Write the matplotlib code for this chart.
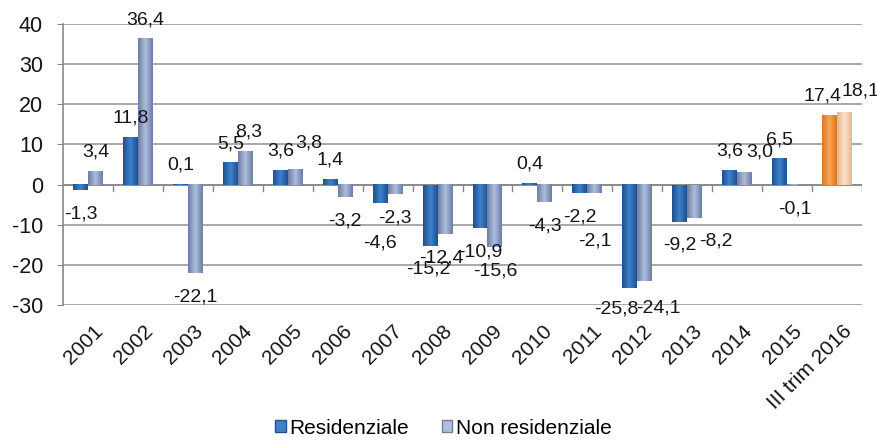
import numpy as np
import matplotlib
matplotlib.use("Agg")
import matplotlib.pyplot as plt
import matplotlib.transforms as mtransforms
from matplotlib.colors import LinearSegmentedColormap
from matplotlib.patches import Patch

plt.rcParams['font.family'] = ['Liberation Sans', 'DejaVu Sans']
plt.rcParams['axes.unicode_minus'] = False

# Data
years = ["2001", "2002", "2003", "2004", "2005", "2006", "2007", "2008",
         "2009", "2010", "2011", "2012", "2013", "2014", "2015", "III trim 2016"]
residenziale = [-1.3, 11.8, 0.1, 5.5, 3.6, 1.4, -4.6, -15.2,
                -10.9, 0.4, -2.2, -25.8, -9.2, 3.6, 6.5, 17.4]
non_residenziale = [3.4, 36.4, -22.1, 8.3, 3.8, -3.2, -2.3, -12.4,
                    -15.6, -4.3, -2.1, -24.1, -8.2, 3.0, -0.1, 18.1]

# label nudges (pixels, dx right / dy up) where labels were moved apart
nudge_res = {6: (0, -16), 7: (-2, 0), 11: (-14, 3), 15: (-7, 0)}
nudge_non = {3: (3, 0), 4: (13, 7), 7: (-4, 0), 10: (0, -24), 11: (14, -3),
             12: (21, 0), 13: (15, 2), 15: (16, 2)}

# gradient colours (edge, centre, edge)
blue = ["#1E4F8F", "#3F82CC", "#1E4F8F"]
grey = ["#6B7DA5", "#AEBEDD", "#6B7DA5"]
orange = ["#D9792A", "#F8A552", "#D9792A"]
peach = ["#E6B58A", "#FDE3CA", "#E6B58A"]

fig = plt.figure(figsize=(8.78, 4.41), dpi=100)
ax = fig.add_axes([0.0718, 0.3084, 0.91, 0.637])

x = np.arange(len(years))
w = 0.3

b1 = ax.bar(x - w / 2, residenziale, w, color="none", zorder=3)
b2 = ax.bar(x + w / 2, non_residenziale, w, color="none", zorder=3)


def fill_gradient(bars, cols, last_cols):
    n = len(bars)
    for i, p in enumerate(bars):
        c = last_cols if i == n - 1 else cols
        cmap = LinearSegmentedColormap.from_list("g", c)
        x0, y0 = p.get_x(), p.get_y()
        x1, y1 = x0 + p.get_width(), y0 + p.get_height()
        grad = np.linspace(0, 1, 50).reshape(1, -1)
        ax.imshow(grad, cmap=cmap, extent=[x0, x1, min(y0, y1), max(y0, y1)],
                  aspect="auto", zorder=3, interpolation="bicubic")


fill_gradient(b1, blue, orange)
fill_gradient(b2, grey, peach)


def fmt(v):
    return f"{v:.1f}".replace(".", ",")


px = 72 / 100  # pixels -> points
for bars, vals, nudge in ((b1, residenziale, nudge_res), (b2, non_residenziale, nudge_non)):
    for i, (p, v) in enumerate(zip(bars, vals)):
        cx = p.get_x() + p.get_width() / 2
        dx, dy = nudge.get(i, (0, 0))
        if v >= 0:
            ax.annotate(fmt(v), (cx, v), xytext=(dx * px, 7.5 + dy * px),
                        textcoords="offset points", ha="center", va="bottom",
                        fontsize=14, color="#151515", zorder=5)
        else:
            ax.annotate(fmt(v), (cx, v), xytext=(dx * px, -11 + dy * px),
                        textcoords="offset points", ha="center", va="top",
                        fontsize=14, color="#151515", zorder=5)

ax.set_xlim(-0.5, len(years) - 0.5)
ax.set_ylim(-30, 40)
ax.set_yticks(range(-30, 41, 10))
ax.tick_params(axis="y", labelsize=15.5, length=4.5, color="#888888", pad=10,
               labelcolor="#151515")
ax.yaxis.grid(True, color="#999999", linewidth=1.2, zorder=0)
ax.set_axisbelow(True)

for s in ["top", "right", "bottom"]:
    ax.spines[s].set_visible(False)
ax.spines["left"].set_color("#888888")
ax.spines["left"].set_linewidth(1.2)

# category axis at zero
ax.axhline(0, color="#888888", linewidth=1.2, zorder=2)
for b in np.arange(0.5, len(years), 1.0):
    ax.plot([b, b], [0, -1.7], color="#888888", linewidth=1.0, zorder=2)

ax.set_xticks(x)
ax.set_xticklabels(years, rotation=45, ha="right", rotation_mode="anchor",
                   fontsize=15, color="#151515")
ax.tick_params(axis="x", length=0, pad=12)
shift = mtransforms.ScaledTranslation(0.05, 0, fig.dpi_scale_trans)
for lbl in ax.get_xticklabels():
    lbl.set_transform(lbl.get_transform() + shift)

handles = [Patch(facecolor=blue[1], edgecolor=blue[0]),
           Patch(facecolor=grey[1], edgecolor=grey[0])]
fig.legend(handles, ["Residenziale", "Non residenziale"], loc="lower center",
           bbox_to_anchor=(0.505, -0.035), ncol=2, frameon=False, fontsize=15,
           handlelength=0.5, handleheight=0.5, handletextpad=0.15, columnspacing=1.6)

fig.savefig("out.png", dpi=100)
